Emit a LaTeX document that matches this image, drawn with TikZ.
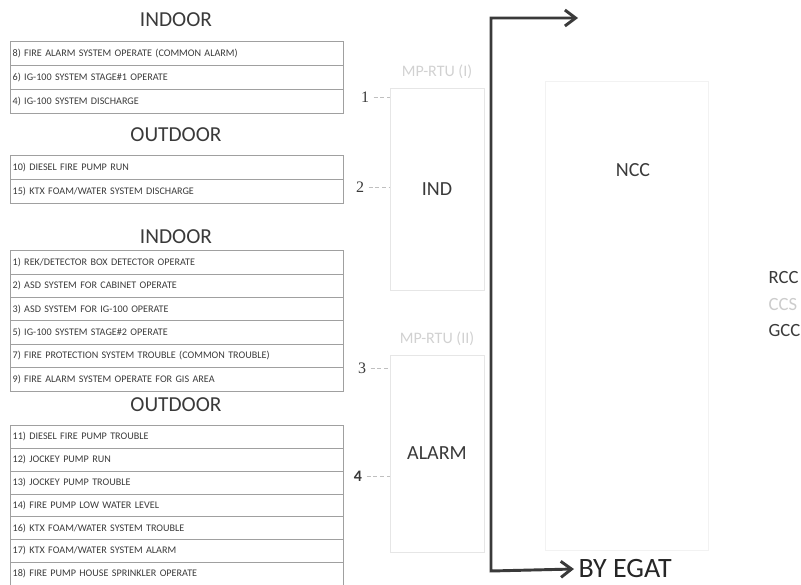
\documentclass[tikz,border=0pt]{standalone}
\usepackage{fontspec}
\setmainfont{Carlito}
\newfontfamily\numfont{Liberation Serif}
\definecolor{INK}{HTML}{3A3A3A}
\definecolor{RULE}{HTML}{A0A0A0}
\definecolor{FAINT}{HTML}{E6E6E6}
\usetikzlibrary{arrows.meta,positioning}

\begin{document}
\begin{tikzpicture}[x=0.75pt, y=-0.75pt,
  head/.style={font=\fontsize{16}{18}\selectfont, text=INK},
  row/.style={draw=RULE, rectangle, minimum width=249.75pt, text width=245.75pt,
    inner xsep=2pt, inner ysep=0pt, align=left, font=\fontsize{7.6}{8}\selectfont, text=INK},
  num/.style={font=\numfont\fontsize{12}{14}\selectfont, text=INK},
  rtu/.style={draw=FAINT, rectangle, minimum width=70.5pt, font=\fontsize{15}{17}\selectfont, text=INK},
  rtulbl/.style={font=\fontsize{12}{14}\selectfont, text=black!18},
  tick/.style={draw=black!25, densely dashed, thin},
  bus/.style={draw=INK, line width=2.2pt, {Straight Barb[length=8pt,width=12pt]}-{Straight Barb[length=8pt,width=12pt]}},
  lbl/.style={font=\fontsize{14}{16}\selectfont, text=INK}
]
\useasboundingbox (0,0) rectangle (801,585);

% signal lists
\node[head] (h1) at (176,20) {INDOOR};
\foreach \txt [count=\i] in {8) FIRE ALARM SYSTEM OPERATE (COMMON ALARM),
    6) IG-100 SYSTEM STAGE\#1 OPERATE, 4) IG-100 SYSTEM DISCHARGE}
  \node[row, minimum height=18pt] (ina\i) at (176.5,29+24*\i) {\txt};

\node[head] (h2) at (176,135) {OUTDOOR};
\foreach \txt [count=\i] in {10) DIESEL FIRE PUMP RUN, 15) KTX FOAM/WATER SYSTEM DISCHARGE}
  \node[row, minimum height=18pt] (outa\i) at (176.5,143+24*\i) {\txt};

\node[head] (h3) at (176,237) {INDOOR};
\foreach \txt [count=\i] in {1) REK/DETECTOR BOX DETECTOR OPERATE,
    2) ASD SYSTEM FOR CABINET OPERATE, 3) ASD SYSTEM FOR IG-100 OPERATE,
    5) IG-100 SYSTEM STAGE\#2 OPERATE, 7) FIRE PROTECTION SYSTEM TROUBLE (COMMON TROUBLE),
    9) FIRE ALARM SYSTEM OPERATE FOR GIS AREA}
  \node[row, minimum height=17.55pt] (inb\i) at (176.5,238.8+23.4*\i) {\txt};

\node[head] (h4) at (176,405) {OUTDOOR};
\foreach \txt [count=\i] in {11) DIESEL FIRE PUMP TROUBLE, 12) JOCKEY PUMP RUN,
    13) JOCKEY PUMP TROUBLE, 14) FIRE PUMP LOW WATER LEVEL,
    16) KTX FOAM/WATER SYSTEM TROUBLE, 17) KTX FOAM/WATER SYSTEM ALARM,
    18) FIRE PUMP HOUSE SPRINKLER OPERATE}
  \node[row, minimum height=17.1pt] (outb\i) at (176.5,414+22.8*\i) {\txt};

% RTUs
\node[rtu, minimum height=151.5pt] (rtu1) at (437,189) {IND};
\node[rtu, minimum height=147.75pt] (rtu2) at (437,453.5) {ALARM};
\node[rtulbl, above=3pt of rtu1] (rtu1lbl) {MP-RTU (I)};
\node[rtulbl, above=3pt of rtu2] (rtu2lbl) {MP-RTU (II)};

\node[num] (n1) at (365,97) {1};
\node[num] (n2) at (360,187) {2};
\node[num] (n3) at (362,368) {3};
\node[font=\bfseries\fontsize{12}{14}\selectfont, text=INK] (n4) at (358,476) {4};
\foreach \n/\r in {n1/rtu1, n2/rtu1, n3/rtu2, n4/rtu2}
  \draw[tick] (\n) -- (\n -| \r.west);

% control centres
\node[draw=black!5, rectangle, minimum width=122pt, minimum height=352pt] (nccbox) at (627,316) {};
\node[font=\fontsize{15}{17}\selectfont, text=INK] (ncc) at (633,170) {NCC};
\node[lbl, anchor=west] (rcc) at (764,278) {RCC};
\node[lbl, anchor=west, text=black!20] (ccs) at (764,305) {CCS};
\node[lbl, anchor=west] (gcc) at (764,331) {GCC};

% link
\coordinate (bustop) at (491,18);
\coordinate (busbot) at (491,571);
\coordinate (nccin) at (578,18);
\node[font=\fontsize{21}{23}\selectfont, text=black!85, anchor=west, inner ysep=0pt] (egat) at (574,569) {BY EGAT};
\draw[bus] (egat.west) -- (busbot) -- (bustop) -- (nccin);
\end{tikzpicture}
\end{document}
